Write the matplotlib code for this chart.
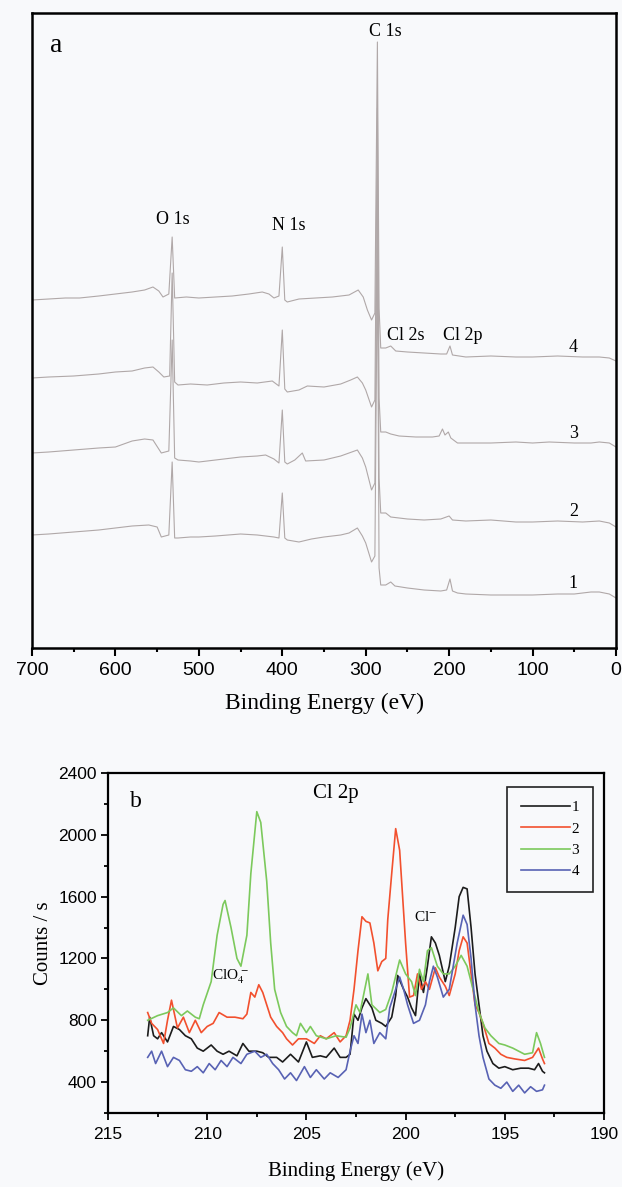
import matplotlib
matplotlib.use("Agg")
import matplotlib.pyplot as plt
from matplotlib.ticker import MultipleLocator, NullLocator

plt.rcParams['mathtext.fontset'] = 'stix'

# ---------------- Panel a: survey spectra (offset, arbitrary units) ----------------
a_E1 = [700, 680, 650, 620, 600, 580, 560, 550, 545, 536, 532, 529, 525, 510, 500, 480, 450, 430, 410, 404, 400, 397, 394,
        380, 365, 350, 330, 320, 310, 304, 300, 293, 289, 286, 284, 282, 276, 270, 265, 250, 230, 210, 203, 199, 196, 190,
        180, 150, 120, 100, 70, 50, 30, 20, 8, 0]
a_I1 = [113, 114, 116, 118, 120, 122, 123, 121, 111, 113, 186, 110, 110, 111, 111, 112, 114, 113, 111, 110, 155, 110, 108,
        106, 109, 111, 113, 115, 120, 112, 105, 86, 92, 400, 80, 63, 63, 66, 62, 60, 58, 57, 58, 69, 57, 55,
        54, 53, 53, 53, 54, 54, 56, 56, 54, 50]

a_E2 = [700, 680, 650, 620, 600, 580, 565, 555, 545, 536, 532, 529, 525, 510, 500, 480, 450, 430, 420, 410, 404, 400, 397,
        394, 385, 376, 372, 350, 330, 320, 310, 304, 300, 293, 289, 286, 284, 282, 276, 270, 250, 230, 210, 200, 196,
        180, 150, 120, 100, 70, 40, 20, 8, 0]
a_I2 = [195, 196, 198, 200, 201, 207, 209, 208, 195, 197, 308, 190, 188, 187, 186, 188, 191, 192, 193, 189, 185, 238, 186,
        184, 188, 195, 187, 188, 192, 195, 198, 190, 181, 158, 165, 470, 170, 135, 135, 131, 129, 128, 129, 132, 128,
        127, 128, 126, 126, 127, 126, 127, 125, 121]

a_E3 = [700, 680, 650, 620, 600, 580, 565, 555, 548, 542, 535, 532, 529, 525, 510, 490, 470, 450, 430, 412, 404, 400, 397,
        394, 380, 370, 350, 330, 318, 310, 304, 300, 293, 289, 286, 284, 282, 276, 270, 260, 240, 220, 212, 208, 205,
        201, 198, 190, 170, 150, 120, 100, 80, 50, 30, 20, 8, 0]
a_I3 = [270, 271, 272, 274, 276, 277, 280, 281, 276, 271, 272, 375, 266, 263, 264, 263, 265, 266, 265, 267, 262, 318, 259,
        256, 258, 262, 261, 264, 268, 271, 265, 258, 241, 248, 540, 250, 216, 216, 214, 212, 211, 211, 212, 219, 213,
        216, 210, 205, 205, 205, 206, 205, 206, 205, 205, 206, 205, 201]

a_E4 = [700, 680, 660, 643, 620, 600, 580, 565, 555, 548, 543, 536, 532, 529, 515, 500, 480, 460, 440, 424, 416, 410, 404,
        400, 397, 394, 380, 360, 340, 320, 309, 303, 298, 293, 289, 286, 284, 282, 276, 270, 264, 250, 230, 210, 203,
        199, 196, 180, 150, 120, 100, 70, 40, 20, 8, 0]
a_I4 = [348, 349, 350, 350, 352, 354, 356, 358, 361, 357, 351, 354, 411, 350, 351, 350, 351, 352, 354, 356, 354, 350, 352,
        401, 348, 346, 349, 350, 351, 353, 358, 351, 338, 328, 335, 606, 340, 300, 300, 302, 297, 296, 295, 294, 294,
        302, 293, 291, 292, 291, 291, 292, 291, 291, 290, 287]

a_peak_labels = ['O 1s', 'N 1s', 'C 1s', 'Cl 2s', 'Cl 2p']
a_peak_E = [531, 392, 277, 252, 184]
a_peak_I = [428, 423, 616, 313, 313]
a_curve_labels = ['1', '2', '3', '4']
a_curve_label_I = [65, 136, 214, 300]

# ---------------- Panel b: Cl 2p region ----------------
b_E1 = [213.0, 212.9, 212.7, 212.5, 212.3, 212.0, 211.7, 211.4, 211.1, 210.8, 210.5, 210.2, 209.8, 209.5, 209.2, 208.9,
        208.5, 208.2, 207.9, 207.5, 207.2, 206.9, 206.5, 206.2, 205.8, 205.4, 205.0, 204.7, 204.3, 204.0, 203.6, 203.3,
        203.0, 202.8, 202.6, 202.4, 202.2, 202.0, 201.7, 201.5, 201.2, 201.0, 200.7, 200.5, 200.4, 200.1, 199.9, 199.7,
        199.5, 199.3, 199.1, 198.9, 198.7, 198.5, 198.3, 198.0, 197.8, 197.5, 197.3, 197.1, 196.9, 196.7, 196.5, 196.3,
        196.1, 195.9, 195.6, 195.3, 195.0, 194.6, 194.2, 193.8, 193.5, 193.3, 193.1, 193.0]
b_I1 = [700, 820, 700, 680, 720, 660, 760, 740, 700, 680, 620, 600, 640, 600, 580, 600,
        570, 650, 600, 600, 590, 560, 560, 530, 580, 530, 660, 560, 570, 560, 620, 560,
        560, 580, 840, 800, 880, 940, 880, 800, 780, 760, 820, 960, 1090, 1000, 950, 880,
        830, 1100, 980, 1150, 1340, 1300, 1220, 1050, 1150, 1400, 1600, 1660, 1650, 1400, 1100, 900,
        700, 600, 520, 490, 500, 480, 490, 490, 480, 520, 470, 460]

b_E2 = [213.0, 212.8, 212.5, 212.2, 212.0, 211.8, 211.5, 211.2, 210.9, 210.6, 210.3, 210.0, 209.7, 209.4, 209.0, 208.6,
        208.2, 208.0, 207.8, 207.6, 207.4, 207.2, 207.0, 206.8, 206.5, 206.2, 206.0, 205.7, 205.4, 205.0, 204.6, 204.3,
        204.0, 203.6, 203.3, 203.0, 202.8, 202.6, 202.4, 202.2, 202.0, 201.8, 201.6, 201.4, 201.2, 201.0, 200.9, 200.7,
        200.5, 200.3, 200.2, 200.0, 199.8, 199.6, 199.4, 199.2, 199.0, 198.8, 198.5, 198.3, 198.0, 197.8, 197.5, 197.3,
        197.1, 196.9, 196.7, 196.5, 196.3, 196.1, 195.8, 195.5, 195.2, 194.9, 194.5, 194.0, 193.6, 193.3, 193.1, 193.0]
b_I2 = [850, 780, 740, 650, 800, 930, 750, 820, 720, 800, 720, 760, 780, 850, 820, 820,
        810, 840, 980, 950, 1030, 980, 900, 820, 760, 720, 680, 640, 680, 680, 650, 700,
        680, 720, 660, 700, 800, 1000, 1250, 1470, 1440, 1430, 1300, 1120, 1180, 1200, 1450, 1750,
        2040, 1900, 1700, 1300, 950, 960, 1100, 1000, 1050, 1000, 1140, 1080, 1020, 960, 1100, 1250,
        1340, 1300, 1100, 900, 850, 780, 650, 620, 580, 560, 550, 540, 560, 620, 550, 520]

b_E3 = [213.0, 212.5, 212.0, 211.7, 211.3, 211.0, 210.6, 210.4, 210.2, 209.8, 209.5, 209.2, 209.1, 208.8, 208.5, 208.3,
        208.0, 207.8, 207.5, 207.3, 207.0, 206.8, 206.6, 206.3, 206.0, 205.7, 205.5, 205.3, 205.0, 204.8, 204.5, 204.0,
        203.5, 203.0, 202.8, 202.5, 202.3, 201.9, 201.7, 201.3, 201.0, 200.7, 200.3, 200.0, 199.7, 199.5, 199.3, 199.1,
        198.9, 198.7, 198.4, 198.1, 197.8, 197.5, 197.2, 196.9, 196.6, 196.3, 196.0, 195.7, 195.3, 195.0, 194.6, 194.3,
        194.0, 193.6, 193.4, 193.2, 193.0]
b_I3 = [800, 830, 850, 880, 830, 860, 820, 810, 900, 1050, 1350, 1550, 1575, 1400, 1200, 1150,
        1350, 1750, 2150, 2080, 1700, 1300, 1000, 850, 760, 720, 700, 780, 720, 760, 700, 680,
        700, 690, 750, 900, 850, 1100, 900, 850, 870, 980, 1190, 1100, 1050, 960, 1130, 1050,
        1250, 1270, 1150, 1100, 1100, 1150, 1220, 1150, 1000, 850, 750, 700, 650, 640, 620, 600,
        580, 590, 720, 650, 560]

b_E4 = [213.0, 212.8, 212.6, 212.3, 212.0, 211.7, 211.4, 211.1, 210.8, 210.5, 210.2, 209.9, 209.6, 209.3, 209.0, 208.7,
        208.3, 208.0, 207.6, 207.3, 207.0, 206.7, 206.4, 206.1, 205.8, 205.5, 205.1, 204.8, 204.5, 204.1, 203.8, 203.4,
        203.0, 202.8, 202.6, 202.4, 202.2, 202.0, 201.8, 201.6, 201.3, 201.0, 200.8, 200.5, 200.3, 200.1, 199.9, 199.6,
        199.3, 199.0, 198.8, 198.6, 198.4, 198.1, 197.8, 197.6, 197.4, 197.1, 196.9, 196.7, 196.5, 196.3, 196.1, 195.8,
        195.5, 195.2, 194.9, 194.6, 194.3, 194.0, 193.7, 193.4, 193.1, 193.0]
b_I4 = [560, 600, 520, 600, 500, 560, 540, 480, 470, 500, 460, 520, 480, 540, 500, 560,
        520, 580, 600, 560, 580, 520, 480, 420, 460, 410, 500, 430, 480, 420, 460, 430,
        480, 600, 700, 650, 840, 720, 800, 650, 720, 680, 880, 1000, 1080, 1000, 900, 780,
        800, 900, 1050, 1150, 1080, 950, 1000, 1150, 1300, 1480, 1420, 1200, 900, 700, 560, 420,
        380, 360, 400, 340, 380, 330, 370, 340, 350, 380]

b_series_labels = ['1', '2', '3', '4']
b_colors = ['#1c1c1c', '#f2502e', '#7cc95c', '#5862b4']

# ---------------- Figure ----------------
W, H = 622, 1187
bg = '#f8f9fb'
fig = plt.figure(figsize=(W / 100, H / 100), dpi=100, facecolor=bg)

serif = ['Liberation Serif', 'DejaVu Serif']
sans = ['Liberation Sans', 'DejaVu Sans']

# Panel a
axa = fig.add_axes([32 / W, 1 - 648 / H, 584 / W, 635 / H], facecolor=bg)
gray = '#b0a8a8'
for E, I in [(a_E1, a_I1), (a_E2, a_I2), (a_E3, a_I3), (a_E4, a_I4)]:
    axa.plot(E, I, color=gray, lw=0.8)
axa.set_xlim(700, 0)
axa.set_ylim(0, 635)
axa.yaxis.set_major_locator(NullLocator())
axa.xaxis.set_major_locator(MultipleLocator(100))
axa.xaxis.set_minor_locator(MultipleLocator(50))
axa.tick_params(axis='x', which='major', direction='out', length=6, width=1.5, labelsize=14, pad=4)
axa.tick_params(axis='x', which='minor', direction='out', length=3, width=1.5)
for lab in axa.get_xticklabels():
    lab.set_fontfamily(sans)
for s in axa.spines.values():
    s.set_linewidth(1.8)
axa.set_xlabel('Binding Energy (eV)', fontfamily=serif, fontsize=17, labelpad=10)
for t, e, i in zip(a_peak_labels, a_peak_E, a_peak_I):
    axa.text(e, i, t, fontfamily=serif, fontsize=13, ha='center', va='center')
for t, i in zip(a_curve_labels, a_curve_label_I):
    axa.text(51, i, t, fontfamily=serif, fontsize=13, ha='center', va='center')
axa.text(671, 603, 'a', fontfamily=serif, fontsize=20, ha='center', va='center')

# Panel b
axb = fig.add_axes([108 / W, 1 - 1113 / H, 496 / W, 340 / H], facecolor=bg)
for E, I, c, lab in zip([b_E1, b_E2, b_E3, b_E4], [b_I1, b_I2, b_I3, b_I4], b_colors, b_series_labels):
    axb.plot(E, I, color=c, lw=1.2, label=lab)
axb.set_xlim(215, 190)
axb.set_ylim(200, 2400)
axb.xaxis.set_major_locator(MultipleLocator(5))
axb.xaxis.set_minor_locator(MultipleLocator(2.5))
axb.yaxis.set_minor_locator(MultipleLocator(200))
axb.set_yticks([400, 800, 1200, 1600, 2000, 2400])
axb.tick_params(which='major', direction='out', length=5, width=1.3, labelsize=12.5, pad=3)
axb.tick_params(axis='x', which='major', pad=5)
axb.tick_params(which='minor', direction='out', length=3, width=1.3)
for lab in axb.get_xticklabels() + axb.get_yticklabels():
    lab.set_fontfamily(sans)
for s in axb.spines.values():
    s.set_linewidth(1.6)
axb.set_xlabel('Binding Energy (eV)', fontfamily=serif, fontsize=15, labelpad=14)
axb.set_ylabel('Counts / s', fontfamily=serif, fontsize=15, labelpad=4)
axb.text(213.6, 2216, 'b', fontfamily=serif, fontsize=17, ha='center', va='center')
axb.text(203.5, 2270, 'Cl 2p', fontfamily=serif, fontsize=15, ha='center', va='center')
axb.text(208.8, 1082, 'ClO$_4^{\\,-}$', fontfamily=serif, fontsize=11, ha='center', va='center')
axb.text(199.0, 1470, 'Cl$^{-}$', fontfamily=serif, fontsize=11, ha='center', va='center')
leg = axb.legend(loc='upper right', bbox_to_anchor=(593 / W, 1 - 787 / H), bbox_transform=fig.transFigure,
                 frameon=True, fancybox=False, edgecolor='#222222', facecolor=bg, framealpha=1,
                 prop={'family': serif, 'size': 11}, handlelength=3.2, handletextpad=0.1,
                 labelspacing=0.5, borderpad=0.9, borderaxespad=0)
leg.get_frame().set_linewidth(1.2)

fig.savefig('out.png', dpi=100, facecolor=bg)
